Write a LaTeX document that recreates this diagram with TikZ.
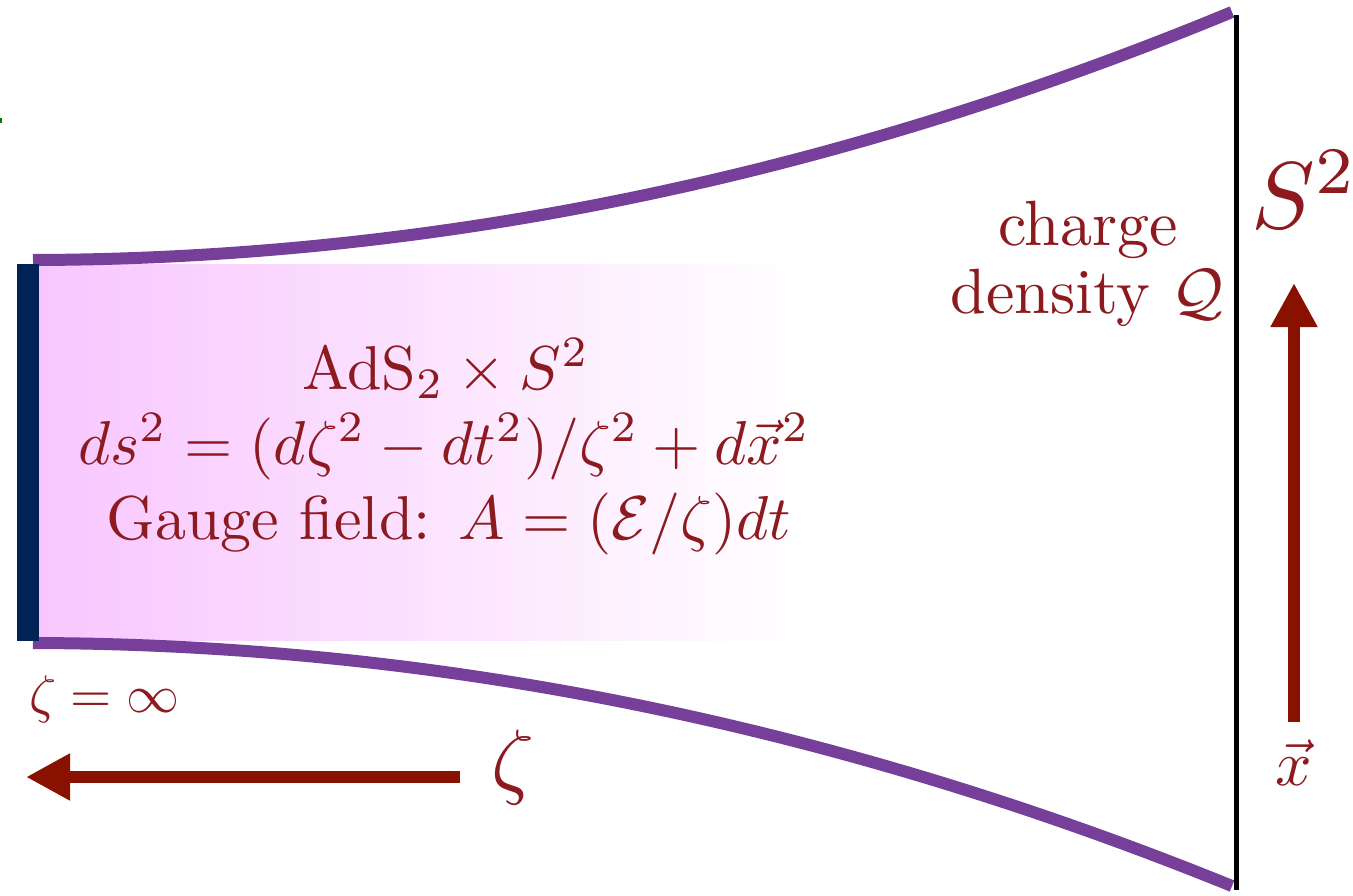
\documentclass[tikz,border=0pt]{standalone}
\usetikzlibrary{arrows.meta}
\definecolor{txt}{RGB}{140,26,31}
\definecolor{arr}{RGB}{136,17,0}
\definecolor{purp}{RGB}{117,63,154}
\definecolor{navy}{RGB}{0,34,85}
\definecolor{pinkL}{RGB}{248,198,255}
\definecolor{grn}{RGB}{0,128,0}
\tikzset{
  lbl/.style={text=txt, inner sep=0pt, transform shape, scale=#1},
  wall/.style={purp, line width=12pt},
  bigarrow/.style={arr, line width=11.5pt, -{Triangle[length=44pt,width=44pt]}},
}
\begin{document}
\begin{tikzpicture}[x=1pt,y=-1pt]
\useasboundingbox (0,0) rectangle (1353,895);
% tiny green mark
\fill[grn] (0,118) rectangle (2,123);
% gradient region
\shade[shading=axis, left color=pinkL, right color=white] (38,264) rectangle (806,640);
% purple boundaries
\coordinate (tl) at (33,260);
\coordinate (tr) at (1232,12);
\coordinate (bl) at (33,643);
\coordinate (br) at (1232,886);
\draw[wall] (tl) .. controls (434,259) and (833,177) .. (tr);
\draw[wall] (bl) .. controls (434,644) and (833,724) .. (br);
% horizon bar
\fill[navy] (17,264) rectangle (39,641);
% boundary line
\coordinate (vt) at (1236,15);
\coordinate (vb) at (1236,890);
\draw[line width=5pt] (vt) -- (vb);
% arrows
\coordinate (za) at (460,777);
\coordinate (zb) at (26,777);
\draw[bigarrow] (za) -- (zb);
\coordinate (xa) at (1294,722);
\coordinate (xb) at (1294,283);
\draw[bigarrow, line width=12pt] (xa) -- (xb);
% texts
\node[lbl=6.2, anchor=base] (ads) at (446,389) {AdS$_2\times S^2$};
\node[lbl=6.2, anchor=base] (met) at (444,464) {$ds^2=(d\zeta^2-dt^2)/\zeta^2+d\vec{x}^2$};
\node[lbl=6.2, anchor=base] (gauge) at (449,539) {Gauge field: $A=(\mathcal{E}/\zeta)dt$};
\node[lbl=6.4, anchor=base] (charge) at (1088,245) {charge};
\node[lbl=6.4, anchor=base] (dens) at (1087,313) {density $\mathcal{Q}$};
\node[lbl=9.5, anchor=base west] (s2) at (1250,228) {$S^2$};
\node[lbl=5.3, anchor=base west] (zinf) at (28,712) {$\zeta=\infty$};
\node[lbl=8.4, anchor=base west] (zeta) at (490,788) {$\zeta$};
\node[lbl=6.4, anchor=base] (xv) at (1294,785) {$\vec{x}$};
\end{tikzpicture}
\end{document}
